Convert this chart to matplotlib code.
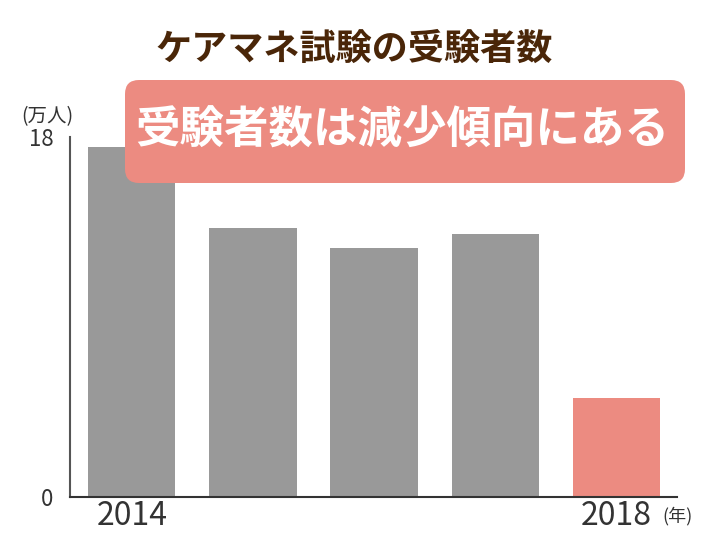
import matplotlib
matplotlib.use("Agg")
import matplotlib.pyplot as plt
from matplotlib.patches import FancyBboxPatch
from matplotlib.transforms import IdentityTransform

plt.rcParams['font.family'] = ['Noto Sans CJK JP', 'DejaVu Sans']

# data (万人)
years = [2014, 2015, 2016, 2017, 2018]
examinees = [17.5, 13.45, 12.46, 13.16, 4.93]
bar_colors = ["#999999", "#999999", "#999999", "#999999", "#EC8B81"]
tick_labels = ["2014", "", "", "", "2018"]

W, H = 726, 545
fig = plt.figure(figsize=(W / 100, H / 100), dpi=100)
ax = fig.add_axes([70 / W, 48 / H, 607 / W, 360 / H])

pos = list(range(len(years)))
ax.bar(pos, examinees, width=0.72, color=bar_colors, zorder=2)

ax.set_xlim(-0.51, 4.50)
ax.set_ylim(0, 18)
ax.set_yticks([0, 18])
ax.set_yticklabels(["0", "18"], fontsize=16, color="#333333")
ax.set_xticks(pos)
ax.set_xticklabels(tick_labels, fontsize=23, color="#333333")
ax.tick_params(axis="both", length=0)
ax.tick_params(axis="y", pad=12)
ax.tick_params(axis="x", pad=2)

for s in ["top", "right"]:
    ax.spines[s].set_visible(False)
ax.spines["left"].set_color("#555555")
ax.spines["left"].set_linewidth(1.5)
ax.spines["bottom"].set_color("#333333")
ax.spines["bottom"].set_linewidth(1.5)

fig.text(47 / W, 1 - 117 / H, "(万人)", fontsize=14, color="#333333",
         ha="center", va="center")
fig.text(678 / W, 1 - 516 / H, "(年)", fontsize=13, color="#333333",
         ha="center", va="center")

fig.text(354 / W, 1 - 49 / H, "ケアマネ試験の受験者数", fontsize=26,
         fontweight="bold", color="#4A2608", ha="center", va="center")

box = FancyBboxPatch((125, H - 183), 560, 103,
                     boxstyle="round,pad=0,rounding_size=14",
                     facecolor="#EC8B81", edgecolor="none",
                     transform=IdentityTransform(), zorder=5)
fig.add_artist(box)
fig.text(402 / W, 1 - 131 / H, "受験者数は減少傾向にある", fontsize=32,
         fontweight="bold", color="white", ha="center", va="center", zorder=6)

fig.savefig("out.png", dpi=100)
